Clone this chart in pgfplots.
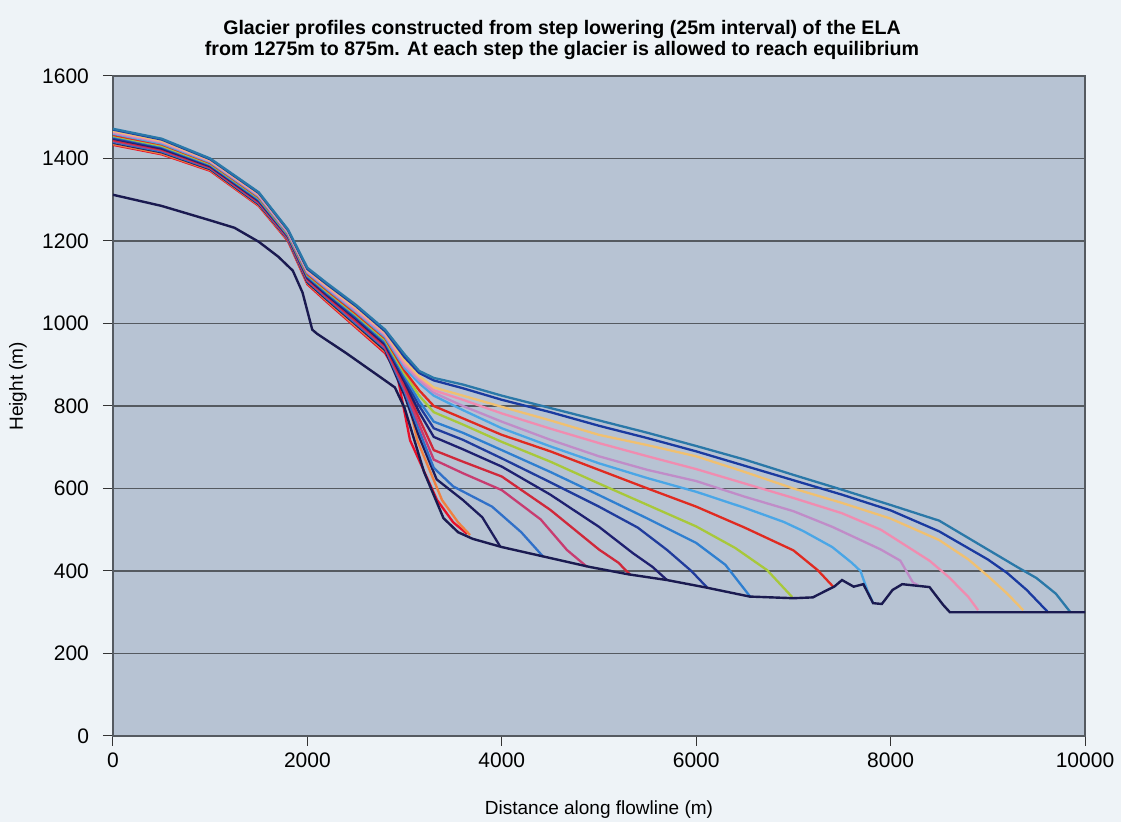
\documentclass[border=0pt]{standalone}
\usepackage{pgfplots}
\pgfplotsset{compat=1.18}
\usepackage{fontspec}
\setmainfont{Liberation Sans}

\definecolor{pagebg}{HTML}{EEF3F7}
\definecolor{plotbg}{HTML}{B7C3D3}
\definecolor{gridc}{HTML}{555A60}
\definecolor{bedc}{HTML}{1A1A50}
\definecolor{cA}{HTML}{E8102A}
\definecolor{cB}{HTML}{F08040}
\definecolor{cC}{HTML}{1C1C5C}
\definecolor{cD}{HTML}{3070C8}
\definecolor{cE}{HTML}{C83C70}
\definecolor{cF}{HTML}{D0283A}
\definecolor{cG}{HTML}{1E2070}
\definecolor{cH}{HTML}{203C9C}
\definecolor{cI}{HTML}{2F7FD0}
\definecolor{cJ}{HTML}{A8C83A}
\definecolor{cK}{HTML}{E02A20}
\definecolor{cL}{HTML}{4AA6E6}
\definecolor{cM}{HTML}{C08CC8}
\definecolor{cN}{HTML}{F08CB0}
\definecolor{cO}{HTML}{F0C070}
\definecolor{cP}{HTML}{1A3AA0}
\definecolor{cQ}{HTML}{2A78A8}

\begin{document}
\begin{tikzpicture}
\useasboundingbox[fill=pagebg] (-56.5pt,-43pt) rectangle (504pt,368pt);
\begin{axis}[
    scale only axis,
    width=486pt, height=330pt,
    xmin=0, xmax=10000, ymin=0, ymax=1600,
    xtick={0,2000,...,10000},
    ytick={0,200,...,1600},
    scaled ticks=false,
    /pgf/number format/1000 sep={},
    /pgf/number format/assume math mode=true,
    axis background/.style={fill=plotbg},
    ymajorgrids,
    grid style={gridc, line width=0.6pt},
    axis line style={gridc, line width=0.6pt},
    tick align=outside, tick pos=left,
    major tick length=5pt,
    tick style={black!80, line width=0.5pt},
    ticklabel style={font=\fontsize{10.5}{12}\selectfont},
    yticklabel style={xshift=-3.5pt},
    xlabel={Distance along flowline (m)},
    ylabel={Height (m)},
    label style={font=\fontsize{9.5}{11}\selectfont},
    xlabel style={at={(axis description cs:0.5,-0.112)}, anchor=center},
    ylabel style={at={(axis description cs:-0.0977,0.53)}, anchor=center},
    every axis plot/.append style={line width=1.15pt},
]
% ice surface profiles, ELA 1275 m (smallest) to 875 m (largest)
\addplot[cA] coordinates {(0,1433)(500,1410)(1000,1370)(1500,1285)(1800,1200)(2000,1095)(2200,1052)(2500,990)(2800,928)(2920,880)(3056,717)(3334,572)(3500,518)(3643,490)};
\addplot[cB] coordinates {(0,1435)(500,1412)(1000,1372)(1500,1287)(1800,1202)(2000,1098)(2200,1055)(2500,993)(2800,932)(2975,878)(3130,717)(3385,572)(3550,518)(3674,487)};
\addplot[cC] coordinates {(0,1438)(500,1415)(1000,1374)(1500,1289)(1800,1204)(2000,1100)(2200,1058)(2500,997)(2800,935)(3000,825)(3150,725)(3330,622)(3600,572)(3800,530)(3982,460)};
\addplot[cD] coordinates {(0,1440)(500,1417)(1000,1376)(1500,1291)(1800,1205)(2000,1103)(2200,1061)(2500,1000)(2800,939)(3000,835)(3150,740)(3300,650)(3500,605)(3900,556)(4200,494)(4425,435)};
\addplot[cE] coordinates {(0,1443)(500,1420)(1000,1378)(1500,1293)(1800,1207)(2000,1105)(2200,1064)(2500,1004)(2800,942)(3000,842)(3150,755)(3300,670)(3600,637)(4000,596)(4400,525)(4670,451)(4877,410)};
\addplot[cF] coordinates {(0,1445)(500,1422)(1000,1379)(1500,1295)(1800,1209)(2000,1108)(2200,1066)(2500,1007)(2800,946)(3000,850)(3150,770)(3300,693)(3600,665)(4000,629)(4500,548)(5000,452)(5200,420)(5320,391)};
\addplot[cG] coordinates {(0,1448)(500,1424)(1000,1381)(1500,1297)(1800,1211)(2000,1110)(2200,1069)(2500,1011)(2800,949)(3000,858)(3150,785)(3300,725)(3600,695)(4000,653)(4500,585)(5000,507)(5350,443)(5550,410)(5700,378)};
\addplot[cH] coordinates {(0,1450)(500,1427)(1000,1383)(1500,1299)(1800,1212)(2000,1113)(2200,1072)(2500,1014)(2800,953)(3000,865)(3150,800)(3300,746)(3600,718)(4000,673)(4500,615)(5000,556)(5400,505)(5700,451)(5950,400)(6112,360)};
\addplot[cI] coordinates {(0,1453)(500,1429)(1000,1385)(1500,1301)(1800,1214)(2000,1115)(2200,1075)(2500,1018)(2800,956)(3000,872)(3150,812)(3300,762)(3600,735)(4000,693)(4500,640)(5000,584)(5500,527)(6000,468)(6300,415)(6555,338)};
\addplot[cJ] coordinates {(0,1455)(500,1431)(1000,1387)(1500,1304)(1800,1216)(2000,1118)(2200,1078)(2500,1021)(2800,960)(3000,878)(3150,825)(3300,785)(3600,755)(4000,713)(4500,665)(5000,612)(5500,560)(6000,508)(6400,456)(6730,402)(6987,337)};
\addplot[cK] coordinates {(0,1457)(500,1434)(1000,1389)(1500,1306)(1800,1218)(2000,1120)(2200,1081)(2500,1024)(2800,964)(3000,885)(3150,838)(3300,800)(3600,770)(4000,730)(4500,690)(5000,645)(5500,600)(6000,556)(6500,505)(7000,450)(7250,402)(7409,362)};
\addplot[cL] coordinates {(0,1460)(500,1436)(1000,1391)(1500,1308)(1800,1219)(2000,1123)(2200,1084)(2500,1028)(2800,967)(3000,892)(3150,855)(3300,825)(3600,790)(4000,746)(4500,702)(5000,661)(5500,625)(6000,592)(6500,553)(6900,519)(7100,497)(7400,458)(7600,420)(7690,400)(7760,354)(7820,322)};
\addplot[cM] coordinates {(0,1462)(500,1439)(1000,1393)(1500,1310)(1800,1221)(2000,1125)(2200,1087)(2500,1031)(2800,971)(3000,898)(3150,862)(3300,832)(3600,800)(4000,762)(4500,718)(5000,678)(5500,645)(6000,618)(6500,580)(7000,545)(7400,507)(7900,452)(8100,425)(8230,372)(8280,366)};
\addplot[cN] coordinates {(0,1465)(500,1441)(1000,1394)(1500,1312)(1800,1223)(2000,1128)(2200,1089)(2500,1035)(2800,974)(3000,903)(3150,868)(3300,838)(3600,815)(4000,782)(4500,745)(5000,710)(5500,678)(6000,647)(6500,612)(7000,577)(7500,540)(7900,500)(8100,470)(8400,425)(8600,385)(8800,337)(8900,305)};
\addplot[cO] coordinates {(0,1467)(500,1443)(1000,1396)(1500,1314)(1800,1225)(2000,1130)(2200,1092)(2500,1038)(2800,978)(3000,910)(3150,872)(3300,845)(3600,825)(4000,798)(4500,765)(5000,730)(5500,705)(6000,678)(6500,640)(7000,600)(7500,565)(8000,527)(8500,475)(8800,428)(9000,388)(9200,345)(9364,305)};
\addplot[cP] coordinates {(0,1470)(500,1446)(1000,1398)(1500,1316)(1800,1226)(2000,1132)(2200,1095)(2500,1042)(2800,981)(3000,918)(3150,880)(3300,862)(3600,843)(4000,815)(4500,785)(5000,752)(5500,722)(6000,690)(6500,655)(7000,620)(7500,585)(8000,547)(8500,496)(9000,428)(9200,395)(9400,354)(9620,300)};
\addplot[cQ] coordinates {(0,1472)(500,1448)(1000,1400)(1500,1318)(1800,1228)(2000,1135)(2200,1098)(2500,1045)(2800,985)(3000,925)(3150,885)(3300,868)(3600,852)(4000,825)(4500,795)(5000,765)(5500,735)(6000,703)(6500,670)(7000,633)(7500,597)(8000,560)(8500,522)(9000,452)(9300,410)(9500,383)(9700,345)(9850,300)};
% bed
\addplot[bedc, line width=1.2pt] coordinates {(0,1312)(500,1285)(1000,1250)(1250,1232)(1500,1198)(1700,1162)(1850,1128)(1950,1075)(2050,985)(2100,975)(2400,928)(2750,870)(2900,845)(3000,795)(3200,640)(3400,528)(3550,494)(3700,478)(4000,458)(4450,434)(4900,410)(5300,392)(5700,378)(6100,360)(6550,338)(7000,334)(7200,336)(7350,354)(7420,362)(7500,378)(7620,362)(7720,368)(7820,322)(7910,320)(8020,354)(8120,368)(8400,361)(8540,318)(8610,300)(10000,300)};
\end{axis}
\node[align=center, font=\bfseries\fontsize{9.8}{10.6}\selectfont] at (224.5pt,348pt)
  {Glacier profiles constructed from step lowering (25m interval) of the ELA\\from 1275m to 875m.  At each step the glacier is allowed to reach equilibrium};
\end{tikzpicture}
\end{document}
